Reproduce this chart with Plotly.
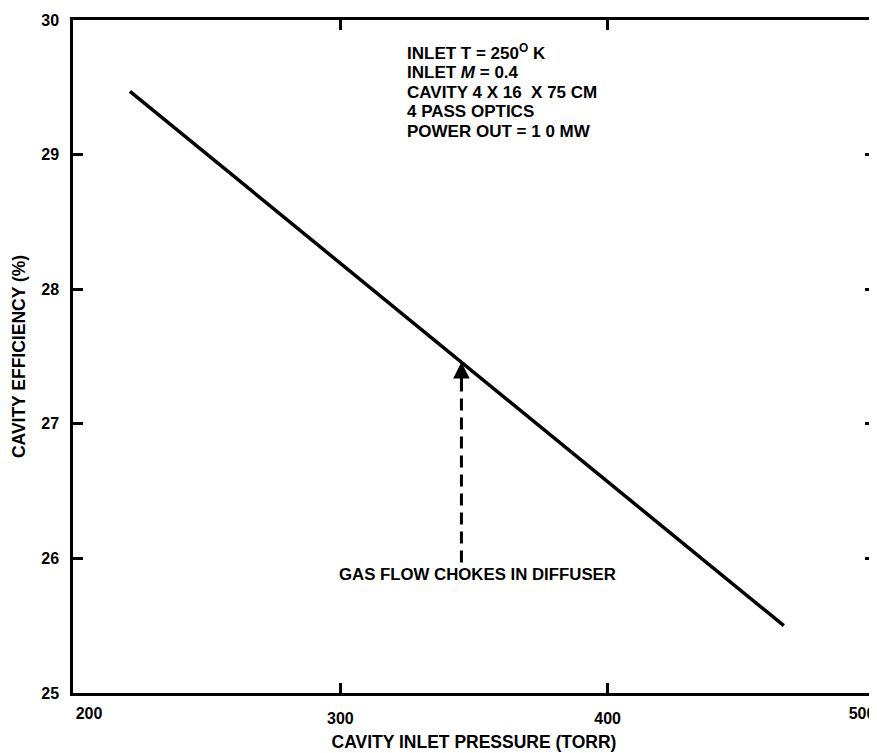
import plotly.graph_objects as go

# Data
pressure = [221.3, 465.9]          # TORR
efficiency = [29.47, 25.50]        # %
choke_pressure = 345.3
choke_eff_tip = 27.46
choke_eff_base = 25.97
choke_eff_head = 27.30
x_ticks = [200, 300, 400, 500]
x_tick_labels = ["200", "300", "400", "500"]
y_ticks = [25, 26, 27, 28, 29, 30]
info_lines = ["INLET T = 250<sup>O</sup> K", "INLET <i>M</i> = 0.4", "CAVITY 4 X 16  X 75 CM",
              "4 PASS OPTICS", "POWER OUT = 1 0 MW"]
info_y = [29.76, 29.61, 29.46, 29.32, 29.17]
info_x = 324.3
choke_label = "GAS FLOW CHOKES IN DIFFUSER"

FONT = "Liberation Sans"
fnt = dict(family=FONT, size=17.5, color="black", weight="bold")
tickfnt = dict(family=FONT, size=16, color="black", weight="bold")

fig = go.Figure()
fig.add_trace(go.Scatter(x=pressure, y=efficiency, mode="lines",
                         line=dict(color="black", width=3.5), showlegend=False,
                         hoverinfo="skip"))
fig.add_trace(go.Scatter(x=[choke_pressure, choke_pressure], y=[choke_eff_base, choke_eff_head],
                         mode="lines", line=dict(color="black", width=3, dash="12px,7px"),
                         showlegend=False, hoverinfo="skip"))
# invisible carriers so the label-only axes for the end ticks are drawn
for ax_name in ["x2", "x3"]:
    fig.add_trace(go.Scatter(x=pressure, y=efficiency, xaxis=ax_name, yaxis="y",
                             mode="lines", line=dict(width=0), opacity=0,
                             showlegend=False, hoverinfo="skip"))

fig.add_annotation(x=choke_pressure, y=choke_eff_tip, xref="x", yref="y",
                   ax=0, ay=24, showarrow=True, arrowhead=2, arrowsize=1.1,
                   arrowwidth=3, arrowcolor="black", text="")
fig.add_annotation(x=351.3, y=25.88, xref="x", yref="y", text=choke_label,
                   showarrow=False, font=dict(family=FONT, size=16.8, color="black", weight="bold"),
                   xanchor="center", yanchor="middle")
for txt, yy in zip(info_lines, info_y):
    fig.add_annotation(x=info_x, y=yy, xref="x", yref="y", text=txt,
                       showarrow=False, font=dict(family=FONT, size=17, color="black", weight="bold"),
                       xanchor="left", yanchor="middle", align="left")

axis_common = dict(showline=True, linecolor="black", linewidth=2.5, mirror="ticks",
                   ticks="inside", ticklen=10, tickwidth=2.5, tickcolor="black",
                   showgrid=False, zeroline=False, ticklabeloverflow="allow",
                   automargin=False, tickfont=tickfnt)

# main x axis: ticks at every value, labels for the inner ones
fig.update_layout(
    xaxis=dict(range=[200, 500], tickvals=x_ticks,
               ticktext=["", x_tick_labels[1], x_tick_labels[2], ""],
               title=dict(text="CAVITY INLET PRESSURE (TORR)", font=fnt, standoff=10),
               ticklabelstandoff=9, **axis_common),
    # end labels sit inside the frame in the reference
    xaxis2=dict(range=[200, 500], overlaying="x", anchor="y", side="bottom",
                tickvals=[x_ticks[0]], ticktext=[x_tick_labels[0]], ticklabelshift=16,
                showline=False, ticks="", showgrid=False, zeroline=False,
                ticklabelstandoff=9, ticklabeloverflow="allow", automargin=False,
                tickfont=tickfnt),
    xaxis3=dict(range=[200, 500], overlaying="x", anchor="y", side="bottom",
                tickvals=[x_ticks[3]], ticktext=[x_tick_labels[3]], ticklabelshift=-13,
                showline=False, ticks="", showgrid=False, zeroline=False,
                ticklabelstandoff=9, ticklabeloverflow="allow", automargin=False,
                tickfont=tickfnt),
    yaxis=dict(range=[25, 30], tickvals=y_ticks, ticktext=[str(v) for v in y_ticks],
               title=dict(text="CAVITY EFFICIENCY (%)", font=fnt, standoff=12),
               ticklabelstandoff=8, **axis_common),
)

# page body has an 8px margin; compensate so the plot lands where the reference has it
fig.update_layout(width=869, height=745, margin=dict(l=65, r=2, t=12, b=60, autoexpand=False),
                  paper_bgcolor="white", plot_bgcolor="white", showlegend=False)

fig.write_html("out.html")
